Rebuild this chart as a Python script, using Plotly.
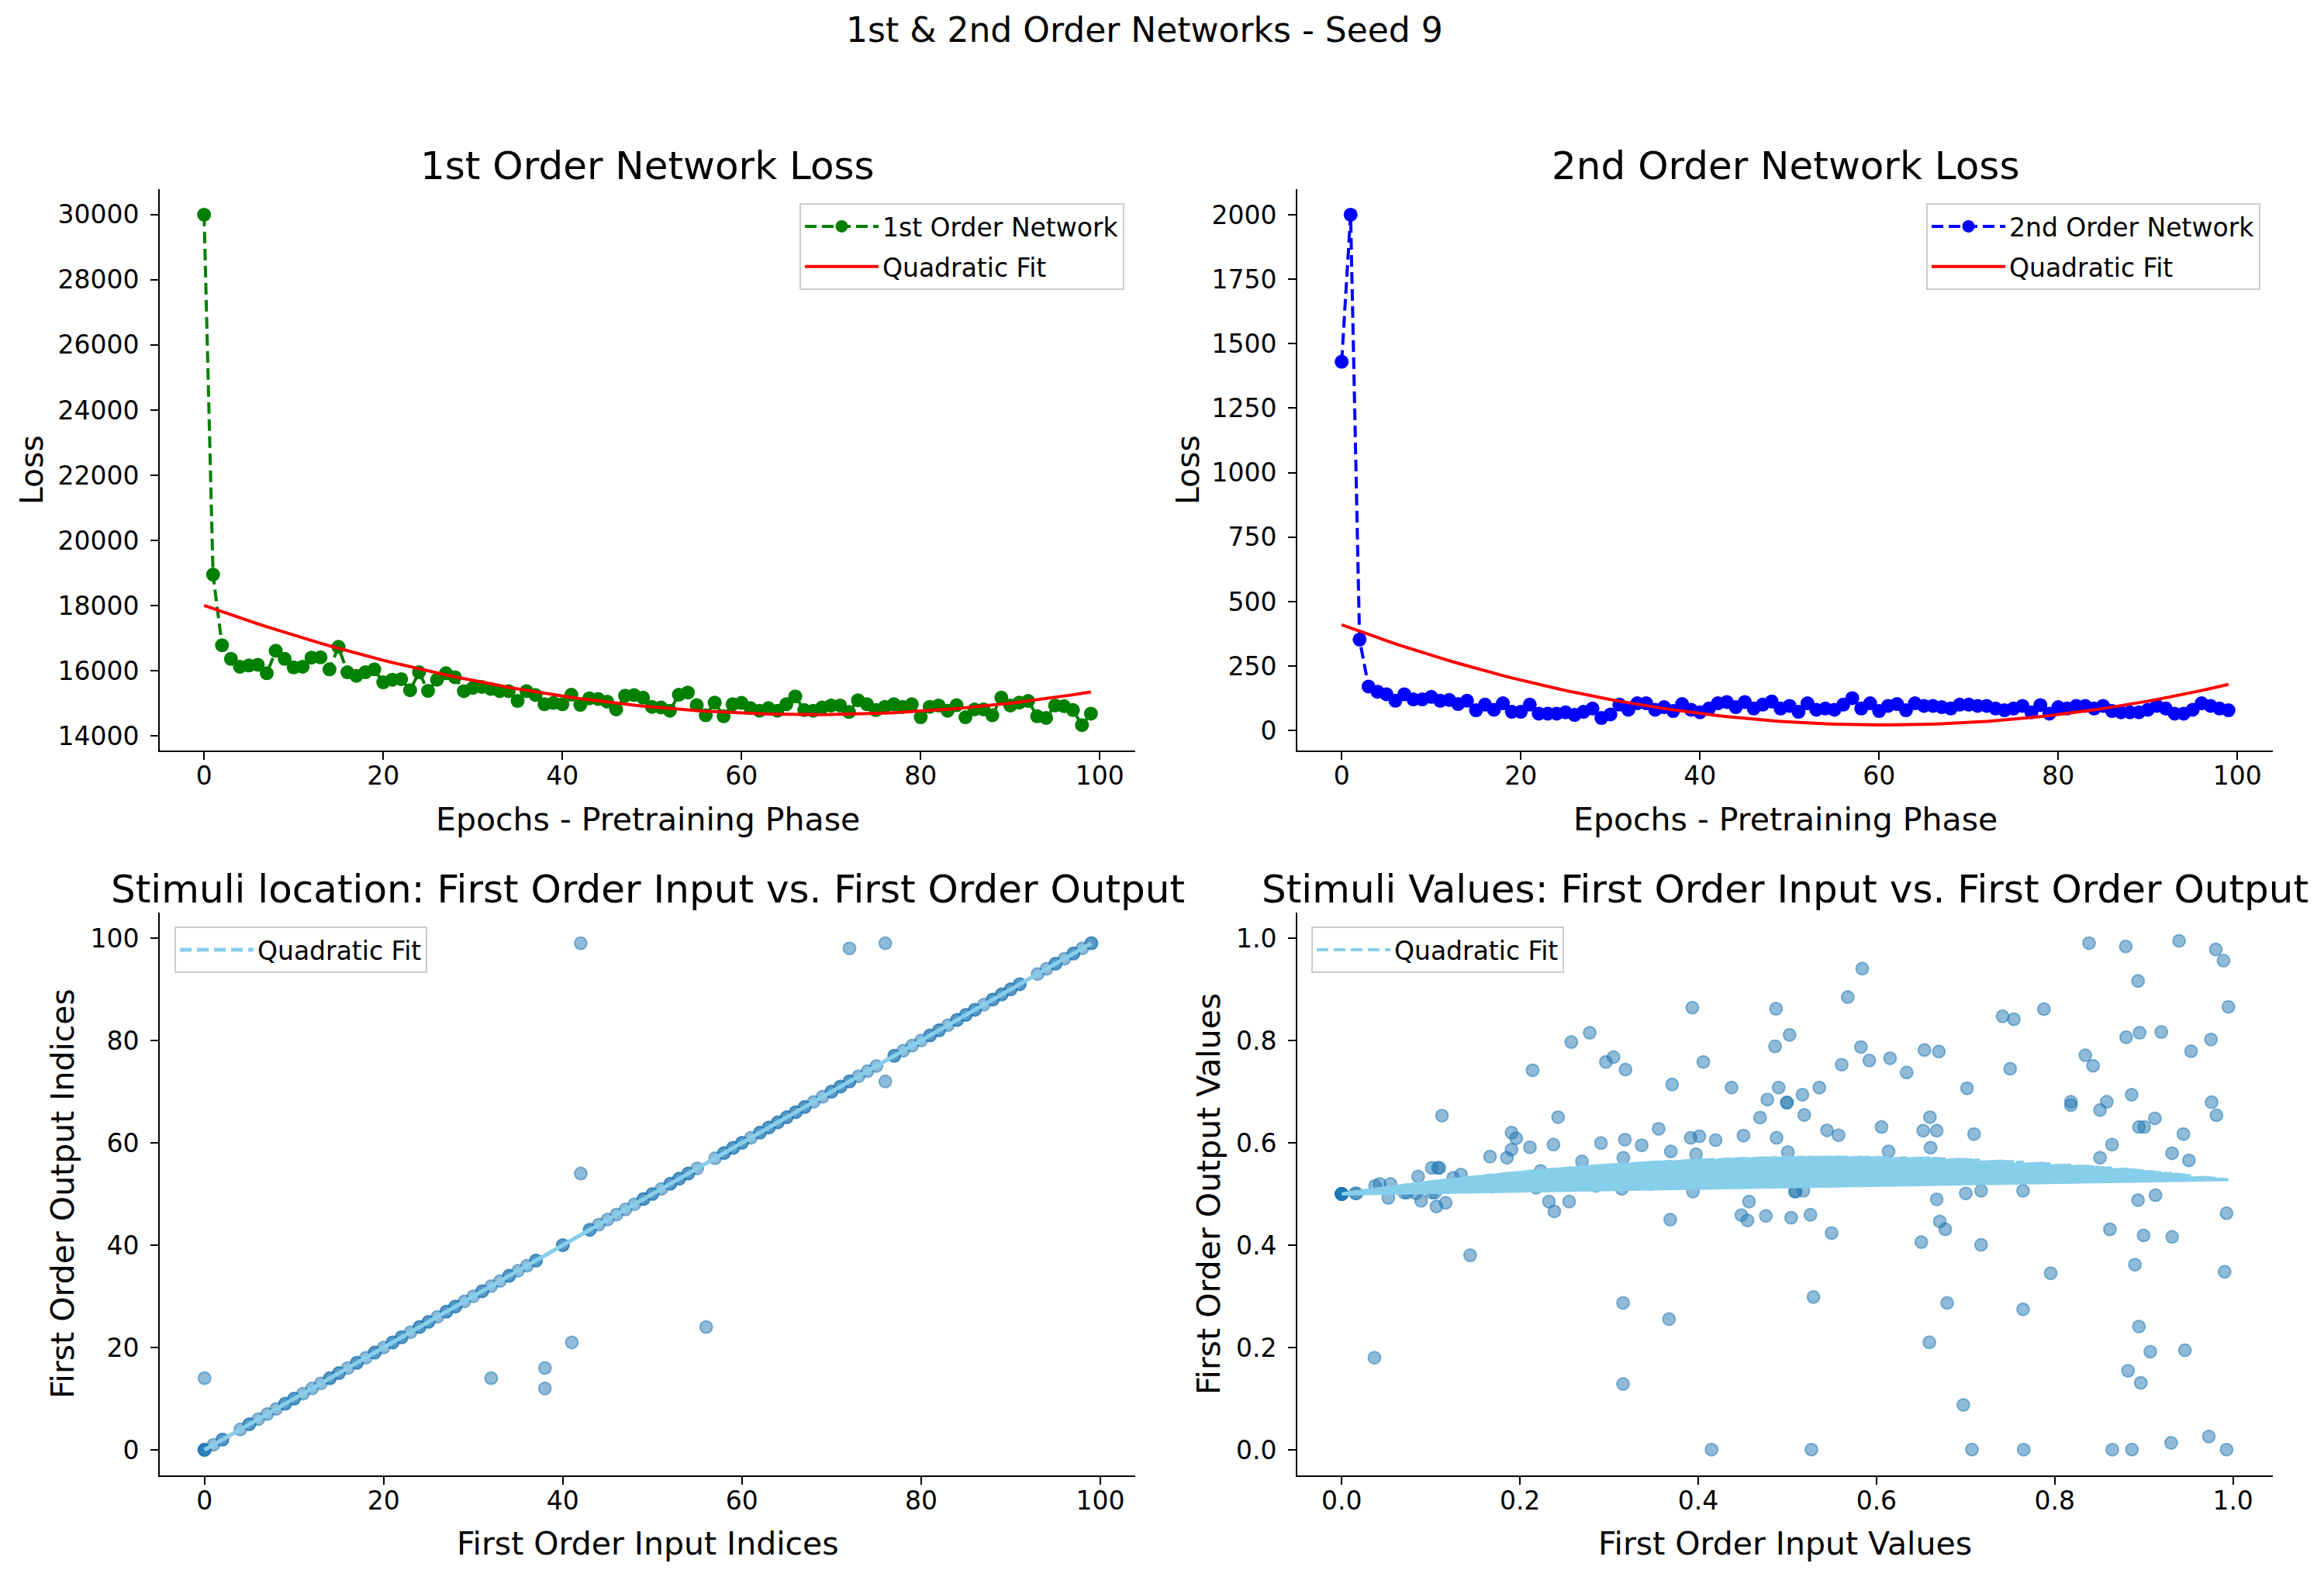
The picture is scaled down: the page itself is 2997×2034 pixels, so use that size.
import numpy as np
import plotly.graph_objects as go

# ---------------- data ----------------
epochs = list(range(100))

loss_first_order = [
    30000, 18950, 16780, 16360, 16120, 16160, 16180, 15920, 16610, 16360,
    16100, 16120, 16400, 16410, 16040, 16730, 15950, 15840, 15950, 16040,
    15640, 15720, 15740, 15400, 15950, 15380, 15720, 15920, 15800, 15370,
    15470, 15500, 15440, 15370, 15370, 15070, 15370, 15250, 14970, 15010,
    14970, 15260, 14950, 15150, 15130, 15050, 14810, 15230, 15250, 15170,
    14890, 14870, 14770, 15260, 15330, 14940, 14630, 15020, 14600, 14970,
    15010, 14850, 14770, 14850, 14770, 14970, 15210, 14790, 14770, 14870,
    14930, 14930, 14730, 15090, 14970, 14790, 14890, 14970, 14890, 14970,
    14570, 14890, 14930, 14770, 14940, 14570, 14810, 14810, 14630, 15170,
    14930, 15020, 15070, 14600, 14550, 14930, 14910, 14790, 14330, 14680,
]

loss_second_order = [
    1430, 2000, 353, 171, 151, 141, 116, 141, 121, 121,
    131, 116, 119, 103, 116, 79, 101, 81, 106, 73,
    73, 101, 66, 66, 66, 71, 61, 73, 86, 49,
    63, 101, 81, 106, 106, 81, 91, 76, 103, 81,
    71, 86, 106, 111, 91, 111, 86, 101, 113, 86,
    96, 73, 106, 81, 86, 81, 101, 126, 86, 106,
    76, 96, 103, 79, 106, 96, 96, 91, 86, 101,
    101, 96, 96, 86, 79, 86, 96, 71, 99, 66,
    91, 86, 96, 96, 86, 96, 76, 71, 71, 71,
    81, 96, 86, 66, 66, 81, 106, 96, 86, 79,
]

# quadratic fit coefficients (highest power first)
fit_first_coef = [0.7245, -98.53, 18000.0]
fit_second_coef = [0.106, -12.826, 410.0]
fit_index_coef = [0.0, 1.0, 0.0]
fit_value_coef = [-0.232, 0.259, 0.5]

# stimuli location (indices)
diag_indices = [
    0, 0, 0, 0, 1, 2, 2, 4, 5, 5, 6, 7, 8, 9, 9, 10, 10, 11, 12, 13, 14, 14,
    15, 15, 16, 17, 17, 18, 19, 19, 20, 21, 21, 22, 22, 23, 24, 24, 25, 25,
    26, 27, 27, 28, 28, 29, 30, 31, 31, 32, 33, 34, 34, 35, 36, 37, 37, 40,
    40, 43, 43, 44, 45, 46, 47, 48, 49, 49, 50, 50, 51, 52, 52, 53, 53, 54,
    54, 55, 57, 58, 58, 59, 59, 60, 60, 61, 62, 62, 63, 63, 64, 64, 65, 65,
    66, 66, 67, 67, 68, 69, 70, 70, 71, 71, 72, 72, 73, 74, 75, 77, 77, 78,
    79, 80, 81, 81, 82, 82, 83, 84, 84, 85, 85, 86, 86, 87, 88, 88, 89, 89,
    90, 90, 91, 91, 93, 94, 95, 95, 96, 97, 97, 98, 99, 99,
]
outlier_in_idx = [0, 32, 38, 38, 41, 42, 42, 56, 72, 76, 76]
outlier_out_idx = [14, 14, 16, 12, 21, 54, 99, 24, 98, 99, 72]
input_indices = diag_indices + outlier_in_idx
output_indices = diag_indices + outlier_out_idx

# stimuli values
input_values = [
    0, 0, 0, 0, 0, 0, 0, 0,
    0.0152, 0.0169, 0.0368, 0.0375, 0.0427, 0.0547, 0.0523, 0.0702, 0.0736,
    0.0833, 0.0857, 0.0891, 0.1011, 0.1097, 0.1080, 0.1011, 0.1046, 0.1063,
    0.1166, 0.1125, 0.1252, 0.1338, 0.1441, 0.1527, 0.1664, 0.1682, 0.1854,
    0.1905, 0.1957, 0.1905, 0.2112, 0.2142, 0.2180, 0.2232, 0.2325, 0.2386,
    0.2376, 0.2369, 0.2428, 0.2552, 0.2576, 0.2696, 0.2782, 0.2851, 0.2909,
    0.2964, 0.3050, 0.3177, 0.3160, 0.3143, 0.3184, 0.3157, 0.3157, 0.3366,
    0.3470, 0.3556, 0.3672, 0.3693, 0.3707, 0.3686, 0.3934, 0.3916, 0.4013,
    0.4057, 0.3975, 0.3941, 0.4150, 0.4195, 0.4374, 0.4508, 0.4484, 0.4553,
    0.4570, 0.4694, 0.4759, 0.4776, 0.4873, 0.4862, 0.4903, 0.4879, 0.4993,
    0.5085,
    0.5025, 0.4998, 0.5170, 0.5190, 0.5359, 0.5445, 0.5575, 0.5610, 0.5678,
    0.5840, 0.5826, 0.5919, 0.6057, 0.6153, 0.6339, 0.6538, 0.6700, 0.6524,
    0.6600, 0.6676, 0.6607, 0.6136, 0.5005, 0.5094, 0.5180, 0.5043, 0.5259,
    0.5496, 0.6108, 0.5293, 0.5270, 0.6503, 0.6676, 0.6710, 0.6772, 0.6593,
    0.6793, 0.6975, 0.7016, 0.7095, 0.7002, 0.7174, 0.7174, 0.7071, 0.7415,
    0.7542, 0.7500, 0.7645, 0.7645, 0.7652, 0.7879, 0.7955, 0.8182, 0.8182,
    0.8343, 0.8430, 0.8385, 0.8508, 0.8584, 0.8508, 0.8643, 0.8619, 0.8646,
    0.8797, 0.8801, 0.8863, 0.8935, 0.8952, 0.8935, 0.8900, 0.8945, 0.8997,
    0.9072, 0.8822, 0.8966, 0.8866, 0.8945, 0.9004, 0.9124, 0.9131, 0.9196,
    0.9317, 0.9317, 0.9306, 0.9395, 0.9444, 0.9461, 0.9506, 0.9530, 0.9729,
    0.9753, 0.9760, 0.9815, 0.9808, 0.9894, 0.9949, 0.9928, 0.9907, 0.9928,
]
output_values = [
    0.5, 0.5, 0.5, 0.5, 0.5, 0.5, 0.5, 0.5,
    0.5012, 0.5012, 0.1800, 0.5159, 0.5196, 0.5196, 0.4924, 0.5027, 0.5027,
    0.5012, 0.5342, 0.4866, 0.5511, 0.5511, 0.5511, 0.5027, 0.5027, 0.4756,
    0.4829, 0.6531, 0.5320, 0.5379, 0.3802, 0.5159, 0.5731, 0.5144, 0.5709,
    0.6199, 0.6089, 0.5869, 0.5913, 0.7418, 0.5122, 0.5452, 0.4851, 0.4660,
    0.5965, 0.5232, 0.6501, 0.4851, 0.7968, 0.5635, 0.8151, 0.5159, 0.5995,
    0.7580, 0.7675, 0.6061, 0.5709, 0.5100, 0.7432, 0.2871, 0.1287, 0.5951,
    0.5196, 0.6273, 0.2555, 0.5833, 0.7139, 0.4499, 0.8642, 0.6097, 0.6127,
    0.7580, 0.5775, 0.5049, 0.0005, 0.6053, 0.7080, 0.6141, 0.4587, 0.4484,
    0.4851, 0.6493, 0.4572, 0.6846, 0.8620, 0.7886, 0.7080, 0.6097, 0.6787,
    0.5049,
    0.8108, 0.6787, 0.6941, 0.6545, 0.7080, 0.6244, 0.6149, 0.7527, 0.8847,
    0.9405, 0.7872, 0.7608, 0.6310, 0.7652, 0.7374, 0.7813, 0.7784, 0.6237,
    0.6501, 0.6237, 0.5907, 0.5833, 0.5819, 0.5049, 0.5064, 0.4536, 0.4594,
    0.4236, 0.5305, 0.2988, 0.0005, 0.4059, 0.4895, 0.4463, 0.4309, 0.2101,
    0.2871, 0.0877, 0.7066, 0.6171, 0.5012, 0.5064, 0.4007, 0.0005, 0.8473,
    0.8415, 0.7447, 0.5064, 0.2746, 0.0005, 0.8613, 0.3451, 0.6802, 0.6736,
    0.7711, 0.7505, 0.9903, 0.6640, 0.6802, 0.5709, 0.5965, 0.4309, 0.0005,
    0.9837, 0.8064, 0.6941, 0.9163, 0.8151, 0.4880, 0.3619, 0.2410, 0.4191,
    0.1918, 0.1545, 0.1309, 0.0005, 0.6310, 0.6310, 0.6479, 0.4976, 0.8166,
    0.5797, 0.4162, 0.0136, 0.9947, 0.6171, 0.1947, 0.5657, 0.7791, 0.0260,
    0.8020, 0.6794, 0.6538, 0.9779, 0.9559, 0.8657, 0.4624, 0.3480, 0.0005,
]

# ---------------- layout geometry (pixels of a 2997x2034 canvas) ----------------
W, H = 2997, 2034
FONT = "DejaVu Sans"


def fx(p):
    return p / W


def fy(p):
    return 1 - p / H


col1 = [fx(206), fx(1464)]
col2 = [fx(1673), fx(2931)]
row1 = [fy(968), fy(244)]
row2 = [fy(1903), fy(1177)]

fig = go.Figure()

DASH = "15px,7px"
SCATTER_FILL = "rgba(31,119,180,0.5)"


def fan(xs, coef):
    """The fit was drawn over unsorted inputs: reproduce the resulting path."""
    px, py = [], []
    c = np.array(coef)
    for v in xs:
        px += [0.0, v]
        py += [float(np.polyval(c, 0.0)), float(np.polyval(c, v))]
    return px, py


# top-left
fig.add_trace(go.Scatter(
    x=epochs, y=loss_first_order, mode="lines+markers", name="1st Order Network",
    line=dict(color="green", width=4, dash=DASH),
    marker=dict(color="green", size=18), xaxis="x", yaxis="y",
    legend="legend", legendgroup="a1"))
fig.add_trace(go.Scatter(
    x=epochs, y=np.polyval(fit_first_coef, epochs), mode="lines", name="Quadratic Fit",
    line=dict(color="red", width=4), xaxis="x", yaxis="y",
    legend="legend", legendgroup="a2"))

# top-right
fig.add_trace(go.Scatter(
    x=epochs, y=loss_second_order, mode="lines+markers", name="2nd Order Network",
    line=dict(color="blue", width=4, dash=DASH),
    marker=dict(color="blue", size=18), xaxis="x2", yaxis="y2",
    legend="legend2", legendgroup="b1"))
fig.add_trace(go.Scatter(
    x=epochs, y=np.polyval(fit_second_coef, epochs), mode="lines", name="Quadratic Fit",
    line=dict(color="red", width=4), xaxis="x2", yaxis="y2",
    legend="legend2", legendgroup="b2"))

# bottom-left
fig.add_trace(go.Scatter(
    x=input_indices, y=output_indices, mode="markers", showlegend=False,
    marker=dict(color=SCATTER_FILL, size=16, line=dict(color=SCATTER_FILL, width=2)),
    xaxis="x3", yaxis="y3"))
fx3, fy3 = fan(input_indices, fit_index_coef)
fig.add_trace(go.Scatter(
    x=fx3, y=fy3, mode="lines", name="Quadratic Fit",
    line=dict(color="skyblue", width=5, dash=DASH, simplify=False),
    xaxis="x3", yaxis="y3", legend="legend3"))

# bottom-right
fig.add_trace(go.Scatter(
    x=input_values, y=output_values, mode="markers", showlegend=False,
    marker=dict(color=SCATTER_FILL, size=16, line=dict(color=SCATTER_FILL, width=2)),
    xaxis="x4", yaxis="y4"))
fx4, fy4 = fan(input_values, fit_value_coef)
fig.add_trace(go.Scatter(
    x=fx4, y=fy4, mode="lines", name="Quadratic Fit",
    line=dict(color="skyblue", width=4, dash=DASH, simplify=False),
    xaxis="x4", yaxis="y4", legend="legend4"))

axis_common = dict(
    showline=True, linecolor="black", linewidth=2, showgrid=False, zeroline=False,
    ticks="outside", ticklen=10, tickwidth=2, tickcolor="black",
    tickfont=dict(family=FONT, size=33, color="black"),
)
xt = dict(ticklabelstandoff=-8, **axis_common)
yt = dict(ticklabelstandoff=8, **axis_common)

fig.update_layout(
    width=W, height=H, margin=dict(l=0, r=0, t=0, b=0),
    paper_bgcolor="white", plot_bgcolor="white",
    font=dict(family=FONT, color="black"),
    xaxis=dict(domain=col1, anchor="y", range=[-4.95, 103.95],
               tickvals=[0, 20, 40, 60, 80, 100], **xt),
    yaxis=dict(domain=row1, anchor="x", range=[13548, 30783],
               tickvals=list(range(14000, 30001, 2000)), tickformat="d", **yt),
    xaxis2=dict(domain=col2, anchor="y2", range=[-4.95, 103.95],
                tickvals=[0, 20, 40, 60, 80, 100], **xt),
    yaxis2=dict(domain=row1, anchor="x2", range=[-77, 2099],
                tickvals=list(range(0, 2001, 250)), tickformat="d", **yt),
    xaxis3=dict(domain=col1, anchor="y3", range=[-5.0, 103.9],
                tickvals=[0, 20, 40, 60, 80, 100], **xt),
    yaxis3=dict(domain=row2, anchor="x3", range=[-5.0, 105.0],
                tickvals=[0, 20, 40, 60, 80, 100], **yt),
    xaxis4=dict(domain=col2, anchor="y4", range=[-0.0498, 1.0447],
                tickvals=[0, 0.2, 0.4, 0.6, 0.8, 1.0], tickformat=".1f", **xt),
    yaxis4=dict(domain=row2, anchor="x4", range=[-0.05, 1.05],
                tickvals=[0, 0.2, 0.4, 0.6, 0.8, 1.0], tickformat=".1f", **yt),
)

legend_common = dict(
    bgcolor="rgba(255,255,255,0.8)", bordercolor="#cccccc", borderwidth=2,
    font=dict(family=FONT, size=33, color="black"), tracegroupgap=6,
    yanchor="top", itemwidth=95,
)
fig.update_layout(
    legend=dict(x=fx(1450), y=fy(262), xanchor="right", **legend_common),
    legend2=dict(x=fx(2915), y=fy(262), xanchor="right", **legend_common),
    legend3=dict(x=fx(225), y=fy(1195), xanchor="left", **legend_common),
    legend4=dict(x=fx(1691), y=fy(1195), xanchor="left", **legend_common),
)

annotations = []


def text(s, x, y, size, angle=0):
    annotations.append(dict(
        text=s, x=fx(x), y=fy(y), xref="paper", yref="paper", showarrow=False,
        xanchor="center", yanchor="middle", textangle=angle,
        font=dict(family=FONT, size=size, color="black")))


# figure title
text("1st &amp; 2nd Order Networks - Seed 9", 1476, 38, 44)
# subplot titles
text("1st Order Network Loss", (206 + 1464) / 2, 214, 50)
text("2nd Order Network Loss", (1673 + 2931) / 2, 214, 50)
text("Stimuli location: First Order Input vs. First Order Output", (206 + 1464) / 2, 1147, 50)
text("Stimuli Values: First Order Input vs. First Order Output", (1673 + 2931) / 2, 1147, 50)
# axis labels
text("Epochs - Pretraining Phase", (206 + 1464) / 2, 1057, 41)
text("Epochs - Pretraining Phase", (1673 + 2931) / 2, 1057, 41)
text("First Order Input Indices", (206 + 1464) / 2, 1991, 41)
text("First Order Input Values", (1673 + 2931) / 2, 1991, 41)
text("Loss", 41, (244 + 968) / 2, 41, -90)
text("Loss", 1532, (244 + 968) / 2, 41, -90)
text("First Order Output Indices", 81, (1177 + 1903) / 2, 41, -90)
text("First Order Output Values", 1559, (1177 + 1903) / 2, 41, -90)

fig.update_layout(annotations=annotations)

fig.write_html("out.html")
